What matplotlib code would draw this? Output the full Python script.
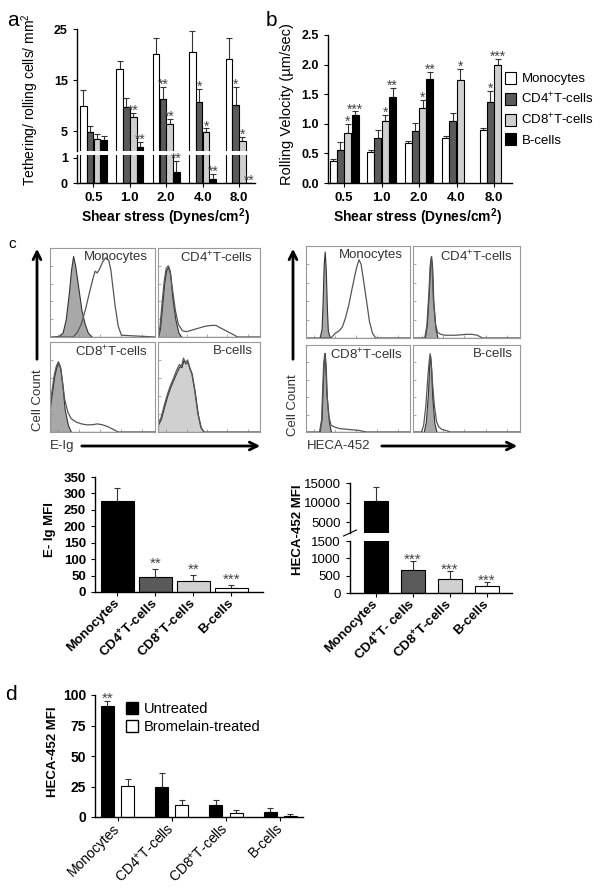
import numpy as np
import matplotlib
matplotlib.use('Agg')
import matplotlib.pyplot as plt
from matplotlib.patches import Patch

plt.rcParams['font.family'] = ['Liberation Sans', 'DejaVu Sans']
plt.rcParams['mathtext.fontset'] = 'custom'
plt.rcParams['mathtext.rm'] = 'Liberation Sans'
plt.rcParams['mathtext.bf'] = 'Liberation Sans:bold'
plt.rcParams['mathtext.it'] = 'Liberation Sans:italic'
plt.rcParams['axes.linewidth'] = 1.0

# ---- data ----
shear = ['0.5', '1.0', '2.0', '4.0', '8.0']
cell_types = ['Monocytes', 'CD4$^{+}$T-cells', 'CD8$^{+}$T-cells', 'B-cells']
cell_ticks_bold = ['Monocytes', 'CD4$^{\\mathbf{+}}$T-cells',
                   'CD8$^{\\mathbf{+}}$T-cells', 'B-cells']
heca_ticks_bold = ['Monocytes', 'CD4$^{\\mathbf{+}}$T- cells',
                   'CD8$^{\\mathbf{+}}$T-cells', 'B-cells']

# panel a: tethering / rolling cells per mm2
tether_mono = [10.0, 17.2, 20.1, 20.5, 19.1]
tether_cd4 = [4.8, 9.7, 11.25, 10.7, 10.1]
tether_cd8 = [3.4, 7.7, 6.45, 4.8, 3.0]
tether_b = [3.2, 1.8, 0.43, 0.15, 0.02]
tether_mono_err = [3.0, 1.55, 3.1, 4.1, 4.1]
tether_cd4_err = [1.1, 1.7, 2.35, 2.5, 3.5]
tether_cd8_err = [1.1, 0.85, 0.95, 0.7, 0.8]
tether_b_err = [0.9, 1.0, 0.45, 0.23, 0.0]
tether_stars = [['', '', '', '', ''],
                ['', '', '**', '*', '*'],
                ['', '**', '**', '*', '*'],
                ['', '**', '**', '**', '**']]

# panel b: rolling velocity
vel_mono = [0.376, 0.52, 0.67, 0.76, 0.89]
vel_cd4 = [0.56, 0.76, 0.87, 1.04, 1.36]
vel_cd8 = [0.84, 1.04, 1.26, 1.74, 1.99]
vel_b = [1.15, 1.46, 1.76, np.nan, np.nan]
vel_mono_err = [0.03, 0.035, 0.04, 0.03, 0.04]
vel_cd4_err = [0.13, 0.14, 0.14, 0.14, 0.19]
vel_cd8_err = [0.16, 0.11, 0.14, 0.18, 0.10]
vel_b_err = [0.06, 0.14, 0.11, np.nan, np.nan]
vel_stars = [['', '', '', '', ''],
             ['', '', '', '', '*'],
             ['*', '*', '*', '*', '***'],
             ['***', '**', '**', '', '']]

# panel c: MFI bars
eig_mfi = [276, 44.6, 32.5, 12]
eig_err = [40, 26.5, 19.5, 9]
eig_stars = ['', '**', '**', '***']
heca_mfi = [10430, 654, 404, 192]
heca_err = [3450, 269, 231, 125]
heca_stars = ['', '***', '***', '***']

# panel d: untreated vs bromelain
untreated = [91.2, 24.7, 9.6, 4.4]
untreated_err = [4.1, 11.7, 4.1, 3.3]
bromelain = [25.5, 9.6, 3.6, 1.1]
bromelain_err = [6.0, 4.1, 1.9, 1.1]
untreated_stars = ['**', '', '', '']

# panel c histograms (x, y in % of box)
eig_mono_fill = ([0, 8, 12, 15, 18, 20, 22, 24, 27, 30, 33, 36, 40, 100],
                 [0, 1, 5, 20, 50, 75, 91, 80, 55, 30, 15, 5, 0, 0])
eig_mono_line = ([0, 22, 26, 30, 34, 38, 41, 43, 45, 47, 50, 53, 56, 58, 60, 62, 65, 68, 100],
                 [0, 0, 5, 15, 32, 52, 66, 74, 72, 76, 84, 89, 86, 75, 55, 35, 12, 2, 0])
eig_cd4_fill = ([0, 2, 4, 6, 8, 10, 12, 14, 17, 20, 23, 100],
                [0, 10, 35, 60, 75, 79, 70, 45, 20, 5, 0, 0])
eig_cd4_line = ([0, 2, 4, 6, 8, 10, 12, 14, 17, 20, 24, 28, 34, 40, 46, 52, 57, 60, 65, 70, 75, 78, 100],
                [0, 12, 38, 62, 77, 80, 74, 55, 30, 14, 7, 6, 8, 10, 12, 13, 13, 11, 8, 5, 2, 0, 0])
eig_cd8_fill = ([0, 2, 4, 6, 8, 10, 12, 14, 17, 20, 100],
                [28, 45, 62, 72, 77, 70, 50, 25, 8, 0, 0])
eig_cd8_line = ([0, 2, 4, 6, 8, 10, 12, 14, 17, 20, 25, 30, 35, 40, 45, 50, 55, 60, 65, 100],
                [28, 46, 63, 73, 78, 72, 55, 36, 22, 15, 11, 9, 8, 8, 9, 8, 6, 3, 0, 0])
eig_b_fill = ([0, 3, 6, 9, 12, 15, 18, 21, 23, 25, 27, 29, 31, 33, 36, 39, 42, 45, 100],
              [8, 15, 28, 40, 50, 58, 66, 73, 72, 80, 76, 78, 70, 65, 45, 20, 5, 0, 0])
eig_b_line = ([0, 3, 6, 9, 12, 15, 18, 21, 23, 25, 27, 29, 31, 33, 36, 39, 42, 45, 100],
              [9, 16, 29, 41, 51, 59, 68, 75, 73, 82, 77, 80, 72, 66, 46, 21, 5, 0, 0])

heca_mono_fill = ([0, 13, 15, 16, 17, 18, 19, 20, 21, 23, 100],
                  [0, 0, 10, 40, 80, 94, 75, 35, 8, 0, 0])
heca_mono_line = ([0, 24, 28, 32, 35, 38, 41, 44, 47, 49, 51, 53, 55, 58, 61, 64, 67, 100],
                  [0, 0, 5, 8, 12, 22, 35, 52, 68, 78, 85, 80, 65, 42, 18, 5, 0, 0])
heca_cd4_fill = ([0, 11, 13, 15, 16, 17, 18, 19, 21, 23, 100],
                 [0, 0, 15, 55, 80, 89, 75, 40, 10, 0, 0])
heca_cd4_line = ([0, 11, 13, 15, 16, 17, 18, 19, 21, 23, 26, 30, 40, 50, 55, 60, 65, 100],
                 [0, 0, 14, 52, 78, 88, 74, 42, 15, 6, 4, 3, 3, 4, 4, 3, 0, 0])
heca_cd8_fill = ([0, 13, 15, 16, 17, 18, 19, 20, 22, 24, 100],
                 [0, 0, 15, 50, 80, 91, 75, 40, 12, 0, 0])
heca_cd8_line = ([0, 13, 15, 16, 17, 18, 19, 20, 22, 24, 27, 32, 40, 50, 58, 100],
                 [0, 0, 14, 48, 78, 90, 76, 45, 18, 8, 6, 4, 3, 2, 0, 0])
heca_b_fill = ([0, 10, 12, 14, 15, 16, 17, 18, 20, 22, 100],
               [0, 0, 12, 45, 75, 88, 72, 40, 10, 0, 0])
heca_b_line = ([0, 8, 10, 12, 14, 15, 16, 17, 18, 20, 22, 24, 27, 30, 35, 100],
               [0, 0, 8, 30, 65, 80, 90, 80, 60, 30, 12, 6, 3, 2, 0, 0])

# ---- figure ----
W, H = 604, 894
fig = plt.figure(figsize=(W / 100, H / 100), dpi=100)

overlay = fig.add_axes([0, 0, 1, 1])
overlay.set_xlim(0, W)
overlay.set_ylim(H, 0)
overlay.axis('off')


def px_axes(l, t, r, b):
    return fig.add_axes([l / W, 1 - b / H, (r - l) / W, (b - t) / H])


def bars(ax, x, h, err, color, width):
    h = np.asarray(h, float)
    err = np.asarray(err, float)
    ok = np.isfinite(h)
    x = np.asarray(x)[ok]
    ax.bar(x, h[ok], width, color=color, edgecolor='black', linewidth=0.8, zorder=2)
    ax.errorbar(x, h[ok], yerr=[np.zeros(ok.sum()), err[ok]], fmt='none',
                ecolor='#333333', elinewidth=0.8, capsize=2, capthick=0.8, zorder=1)


def star(ax, x, y, s, size=10, gap=6):
    # gap: pixels between error cap and centre of asterisks
    if s:
        dy = (gap - 0.57 * size * 1.389) / 1.389
        ax.annotate(s, (x, y), xytext=(0, dy), textcoords='offset points',
                    ha='center', va='baseline', fontsize=size, color='#444444',
                    annotation_clip=False)


def clean(ax, keep_bottom=True):
    ax.spines['top'].set_visible(False)
    ax.spines['right'].set_visible(False)
    if not keep_bottom:
        ax.spines['bottom'].set_visible(False)
        ax.set_xticks([])
    ax.tick_params(length=3, width=0.8)


abcolors = ['white', '#5a5a5a', '#cfcfcf', 'black']
mfi_colors = ['black', '#5a5a5a', '#d0d0d0', 'white']

# ---- panel a ----
g = np.arange(len(shear))
wa = 0.18
offs = (np.arange(4) - 1.5) * wa * 1.04
a_means = [tether_mono, tether_cd4, tether_cd8, tether_b]
a_errs = [tether_mono_err, tether_cd4_err, tether_cd8_err, tether_b_err]
ax_a_top = px_axes(77, 29, 255, 151)
ax_a_bot = px_axes(77, 155, 255, 183)
for ax in (ax_a_top, ax_a_bot):
    for i in range(4):
        bars(ax, g + offs[i], a_means[i], a_errs[i], abcolors[i], wa)
    ax.set_xlim(-0.453, 4.44)
ax_a_top.set_ylim(1.08, 25)
ax_a_top.set_yticks([5, 15, 25])
ax_a_bot.set_ylim(0, 1.12)
ax_a_bot.set_yticks([0, 1])
clean(ax_a_top, keep_bottom=False)
clean(ax_a_bot)
ax_a_bot.set_xticks(g)
ax_a_bot.set_xticklabels(shear, fontsize=9.5, fontweight='bold')
for ax in (ax_a_top, ax_a_bot):
    for t in ax.get_yticklabels():
        t.set_fontsize(9)
        t.set_fontweight('bold')
for i in range(4):
    for j in range(len(shear)):
        top = a_means[i][j] + a_errs[i][j]
        star(ax_a_top if top > 1.12 else ax_a_bot, g[j] + offs[i], top,
             tether_stars[i][j], 10, 6)

# ---- panel b ----
wb = 0.187
offs_b = (np.arange(4) - 1.5) * wb * 1.04
b_means = [vel_mono, vel_cd4, vel_cd8, vel_b]
b_errs = [vel_mono_err, vel_cd4_err, vel_cd8_err, vel_b_err]
ax_b = px_axes(328, 35, 512, 183)
for i in range(4):
    bars(ax_b, g + offs_b[i], b_means[i], b_errs[i], abcolors[i], wb)
    for j in range(len(shear)):
        if np.isfinite(b_means[i][j]):
            star(ax_b, g[j] + offs_b[i], b_means[i][j] + b_errs[i][j], vel_stars[i][j], 10, 6)
ax_b.set_xlim(-0.43, 4.48)
ax_b.set_ylim(0, 2.5)
ax_b.set_yticks([0, 0.5, 1.0, 1.5, 2.0, 2.5])
ax_b.set_yticklabels(['0.0', '0.5', '1.0', '1.5', '2.0', '2.5'], fontsize=9, fontweight='bold')
ax_b.set_xticks(g)
ax_b.set_xticklabels(shear, fontsize=9.5, fontweight='bold')
clean(ax_b)
handles = [Patch(facecolor=c, edgecolor='black', linewidth=0.8) for c in abcolors]
ax_b.legend(handles, cell_types, loc='upper left', bbox_to_anchor=(505 / W, 1 - 72 / H),
            bbox_transform=fig.transFigure, frameon=False, fontsize=9.5,
            handlelength=0.85, handleheight=1.0, handletextpad=0.4,
            labelspacing=0.45, borderaxespad=0, borderpad=0)

# labels for a, b
overlay.text(13, 20, 'a', fontsize=15, ha='center', va='center')
overlay.text(271, 20, 'b', fontsize=15, ha='center', va='center')
overlay.text(30, 100, 'Tethering/ rolling cells/ mm$^2$', rotation=90, fontsize=10,
             ha='center', va='center')
overlay.text(287, 104, 'Rolling Velocity (\u00b5m/sec)', rotation=90, fontsize=10.5,
             ha='center', va='center')
overlay.text(166, 217, 'Shear stress (Dynes/cm$^{\\mathbf{2}}$)', fontsize=10,
             fontweight='bold', ha='center', va='center')
overlay.text(418, 217, 'Shear stress (Dynes/cm$^{\\mathbf{2}}$)', fontsize=10,
             fontweight='bold', ha='center', va='center')

# ---- panel c histograms ----
overlay.text(12, 244, 'c', fontsize=11, ha='center', va='center')


def hist_box(rect, fill, line, label, fill_color='#a8a8a8'):
    ax = px_axes(*rect)
    ax.fill_between(fill[0], fill[1], color=fill_color, edgecolor='#333333', linewidth=0.8)
    ax.plot(line[0], line[1], color='#555555', linewidth=0.9)
    ax.set_xlim(0, 100)
    ax.set_ylim(0, 100)
    ax.set_xticks([8, 28, 48, 68, 88])
    ax.set_yticks([20, 40, 60, 80])
    ax.set_xticklabels([])
    ax.set_yticklabels([])
    ax.tick_params(direction='in', length=2, width=0.5, colors='#888888')
    for s in ax.spines.values():
        s.set_color('#999999')
        s.set_linewidth(0.8)
    ax.text(0.93, 0.97, label, transform=ax.transAxes, ha='right', va='top',
            fontsize=9.5, color='#333333')
    return ax


hist_box((50, 248, 155, 337), eig_mono_fill, eig_mono_line, cell_types[0])
hist_box((158, 248, 260, 337), eig_cd4_fill, eig_cd4_line, cell_types[1])
hist_box((50, 342, 155, 432), eig_cd8_fill, eig_cd8_line, cell_types[2])
hist_box((158, 342, 260, 432), eig_b_fill, eig_b_line, cell_types[3], '#d0d0d0')
hist_box((306, 246, 410, 338), heca_mono_fill, heca_mono_line, cell_types[0])
hist_box((413, 246, 520, 338), heca_cd4_fill, heca_cd4_line, cell_types[1])
hist_box((306, 345, 410, 432), heca_cd8_fill, heca_cd8_line, cell_types[2])
hist_box((413, 345, 520, 432), heca_b_fill, heca_b_line, cell_types[3])

arrow = dict(arrowstyle='->', lw=2, color='black', mutation_scale=14)
overlay.annotate('', xy=(37, 246), xytext=(37, 362), arrowprops=arrow)
overlay.annotate('', xy=(293, 246), xytext=(293, 362), arrowprops=arrow)
overlay.annotate('', xy=(263, 446), xytext=(79, 446), arrowprops=arrow)
overlay.annotate('', xy=(520, 446), xytext=(379, 446), arrowprops=arrow)
overlay.text(38, 400, 'Cell Count', rotation=90, fontsize=9.5, ha='center', va='center', color='#333333')
overlay.text(293, 405, 'Cell Count', rotation=90, fontsize=9.5, ha='center', va='center', color='#333333')
overlay.text(50, 446, 'E-Ig', fontsize=9.5, ha='left', va='center', color='#333333')
overlay.text(307, 446, 'HECA-452', fontsize=9.5, ha='left', va='center', color='#333333')

# ---- panel c MFI bars ----
gc = np.arange(4)
ax_e = px_axes(95, 477, 263, 592)
for i in range(4):
    bars(ax_e, [gc[i]], [eig_mfi[i]], [eig_err[i]], mfi_colors[i], 0.87)
    star(ax_e, gc[i], eig_mfi[i] + eig_err[i], eig_stars[i], 11, 10)
ax_e.set_xlim(-0.59, 3.83)
ax_e.set_ylim(0, 350)
ax_e.set_yticks(np.arange(0, 351, 50))
clean(ax_e)
ax_e.set_xticks(gc)
ax_e.set_xticklabels(cell_ticks_bold, rotation=45, ha='right', va='center',
                     rotation_mode='anchor', fontsize=9.5, fontweight='bold')
for t in ax_e.get_yticklabels():
    t.set_fontsize(9.5)
    t.set_fontweight('bold')
overlay.text(50, 530, 'E- Ig MFI', rotation=90, fontsize=9.5, fontweight='bold',
             ha='center', va='center')

ax_h_top = px_axes(350, 483, 512, 533)
ax_h_bot = px_axes(350, 541, 512, 593)
for ax in (ax_h_top, ax_h_bot):
    for i in range(4):
        bars(ax, [gc[i]], [heca_mfi[i]], [heca_err[i]], mfi_colors[i], 0.65)
    ax.set_xlim(-0.70, 3.68)
for i in range(4):
    top = heca_mfi[i] + heca_err[i]
    star(ax_h_top if top > 1500 else ax_h_bot, gc[i], top, heca_stars[i], 11, 6)
ax_h_top.set_ylim(2180, 15000)
ax_h_top.set_yticks([5000, 10000, 15000])
ax_h_bot.set_ylim(0, 1500)
ax_h_bot.set_yticks([0, 500, 1000, 1500])
clean(ax_h_top, keep_bottom=False)
clean(ax_h_bot)
ax_h_top.plot([-0.04, 0.04], [-0.06, 0.06], transform=ax_h_top.transAxes,
              color='black', lw=0.8, clip_on=False)
ax_h_bot.set_xticks(gc)
ax_h_bot.set_xticklabels(heca_ticks_bold, rotation=45, ha='right', va='center',
                         rotation_mode='anchor', fontsize=9.5, fontweight='bold')
for ax in (ax_h_top, ax_h_bot):
    for t in ax.get_yticklabels():
        t.set_fontsize(9.5)
overlay.text(298, 530, 'HECA-452 MFI', rotation=90, fontsize=9.5, fontweight='bold',
             ha='center', va='center')

# ---- panel d ----
ax_d = px_axes(95, 695, 303, 817)
wd = 0.24
od = 0.185
bars(ax_d, gc - od, untreated, untreated_err, 'black', wd)
bars(ax_d, gc + od, bromelain, bromelain_err, 'white', wd)
for i in range(4):
    star(ax_d, gc[i] - od, untreated[i] + untreated_err[i], untreated_stars[i], 11, 7)
ax_d.set_xlim(-0.415, 3.42)
ax_d.set_ylim(0, 100)
ax_d.set_yticks([0, 25, 50, 75, 100])
clean(ax_d)
ax_d.set_xticks(gc)
ax_d.set_xticklabels(cell_types, rotation=45, ha='right', va='center',
                     rotation_mode='anchor', fontsize=10)
for t in ax_d.get_yticklabels():
    t.set_fontsize(10)
    t.set_fontweight('bold')
hd = [Patch(facecolor='black', edgecolor='black'), Patch(facecolor='white', edgecolor='black')]
ax_d.legend(hd, ['Untreated', 'Bromelain-treated'], loc='upper left',
            bbox_to_anchor=(126 / W, 1 - 702 / H), bbox_transform=fig.transFigure,
            frameon=False, fontsize=10.5, handlelength=0.8, handleheight=0.9,
            handletextpad=0.4, labelspacing=0.25, borderaxespad=0, borderpad=0)
overlay.text(53, 752, 'HECA-452 MFI', rotation=90, fontsize=9.5, fontweight='bold',
             ha='center', va='center')
overlay.text(11, 695, 'd', fontsize=15, ha='center', va='center')

fig.savefig('out.png', dpi=100)
